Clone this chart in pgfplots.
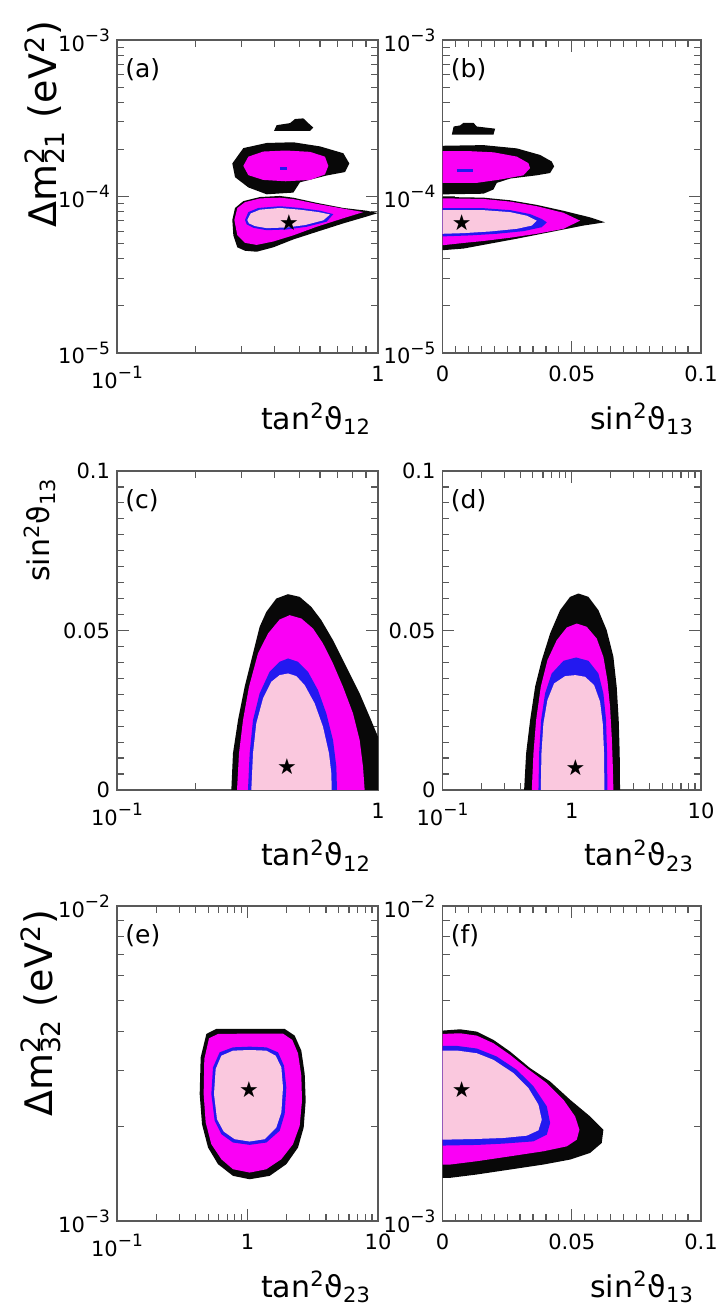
\documentclass[border=0pt]{standalone}
\usepackage{fontspec}
\setmainfont{DejaVu Sans}
\usepackage{pgfplots}
\pgfplotsset{compat=1.18}
\definecolor{cblack}{RGB}{8,8,8}
\definecolor{cmag}{RGB}{250,0,245}
\definecolor{cblue}{RGB}{35,25,240}
\definecolor{cpink}{RGB}{250,200,222}
\newcommand{\ex}[1]{\raisebox{0.85ex}{\fontsize{8.5}{8.5}\selectfont #1}}
\tikzset{
  dmlabel/.style={font=\fontsize{19}{19}\selectfont},
  snlabel/.style={font=\fontsize{15}{15}\selectfont},
}
\pgfplotsset{
  panel/.style={scale only axis, anchor=south west, tick align=inside,
    major tick length=6pt, minor tick length=3.5pt,
    axis line style={black!65, line width=0.6pt},
    tick style={black!65, line width=0.6pt},
    tick label style={font=\fontsize{10.5}{12}\selectfont},
    xticklabel style={yshift=-3pt},
    /pgf/number format/assume math mode=true,
    xlabel style={at={([yshift=-38pt]axis description cs:1,0)}, anchor=base east, font=\fontsize{15}{15}\selectfont},
  },
  col1/.style={width=130.5pt},
  col2/.style={width=129.25pt},
  row1/.style={height=156.5pt},
  row2/.style={height=159.5pt},
  row3/.style={height=157.5pt},
  logdm21/.style={ymin=1e-5, ymax=1e-3, ytick={1e-5,1e-4,1e-3},
    yticklabels={10\ex{−5},10\ex{−4},10\ex{−3}},
    minor ytick={2e-5,3e-5,4e-5,5e-5,6e-5,7e-5,8e-5,9e-5,2e-4,3e-4,4e-4,5e-4,6e-4,7e-4,8e-4,9e-4}},
  logdm32/.style={ymin=1e-3, ymax=1e-2, ytick={1e-3,1e-2},
    yticklabels={10\ex{−3},10\ex{−2}},
    minor ytick={2e-3,3e-3,4e-3,5e-3,6e-3,7e-3,8e-3,9e-3}},
  lint12/.style={xmin=0.1, xmax=1, xtick={0.1,1},
    xticklabels={10\ex{−1},1},
    minor xtick={0.2,0.3,0.4,0.5,0.6,0.7,0.8,0.9}},
  lint23/.style={xmin=0.1, xmax=10, xtick={0.1,1,10},
    xticklabels={10\ex{−1},1,10},
    minor xtick={0.2,0.3,0.4,0.5,0.6,0.7,0.8,0.9,2,3,4,5,6,7,8,9}},
  linx13/.style={xmin=0, xmax=0.1, xtick={0,0.05,0.1}, xticklabels={0,0.05,0.1}, minor x tick num=9},
  liny13/.style={ymin=0, ymax=0.1, ytick={0,0.05,0.1}, yticklabels={0,0.05,0.1}, minor y tick num=9},
  bestfit/.style={only marks, mark=text, text mark={★}, text mark as node=true,
    text mark style={font=\fontsize{11}{11}\selectfont, inner sep=0pt, text=black}},
}
\newcommand{\panellabel}[1]{\node[anchor=north west, inner sep=0pt, xshift=4pt, yshift=-9pt, font=\fontsize{12.5}{12.5}\selectfont] at (rel axis cs:0,1) {#1};}
\begin{document}
\begin{tikzpicture}
\path[use as bounding box] (0,0) rectangle (358.5pt,653pt);

% ---------------- (a) ----------------
\begin{loglogaxis}[panel, col1, row1, at={(58.5pt,476.5pt)}, lint12, logdm21,
  xlabel={tan\textsuperscript{2}ϑ\textsubscript{12}},
  ylabel={Δm\rlap{\textsuperscript{2}}\textsubscript{21} (eV\textsuperscript{2})},
  ylabel style={at={([xshift=-30pt,yshift=13pt]axis description cs:0,1)}, anchor=base east, dmlabel}]
\addplot[draw=none, fill=cblack] coordinates {(0.3995,2.622e-4) (0.4089,2.856e-4) (0.4601,2.944e-4) (0.4808,3.126e-4) (0.5175,3.158e-4) (0.5408,2.944e-4) (0.5650,2.757e-4) (0.5490,2.622e-4)} -- cycle;
\addplot[draw=none, fill=cblack] coordinates {(0.2766,1.626e-4) (0.3048,2.038e-4) (0.3745,2.198e-4) (0.4738,2.221e-4) (0.5996,2.090e-4) (0.7365,1.890e-4) (0.7767,1.626e-4) (0.7474,1.433e-4) (0.6357,1.362e-4) (0.5025,1.232e-4) (0.4738,1.059e-4) (0.3745,1.033e-4) (0.3186,1.143e-4) (0.2833,1.329e-4)} -- cycle;
\addplot[draw=none, fill=cmag] coordinates {(0.3048,1.569e-4) (0.3186,1.797e-4) (0.3636,1.938e-4) (0.4427,1.968e-4) (0.5490,1.929e-4) (0.6264,1.797e-4) (0.6452,1.569e-4) (0.6264,1.383e-4) (0.5490,1.276e-4) (0.4427,1.251e-4) (0.3636,1.276e-4) (0.3186,1.369e-4)} -- cycle;
\addplot[cblue, line width=1.5pt] coordinates {(0.4212,1.50e-4) (0.4467,1.50e-4)};
\addplot[draw=none, fill=cblack] coordinates {(0.2766,7.084e-5) (0.2833,8.448e-5) (0.3048,9.343e-5) (0.3531,9.924e-5) (0.4212,1.008e-4) (0.4738,9.824e-5) (0.5821,9.111e-5) (0.7365,8.448e-5) (0.9049,8.114e-5) (0.999,7.834e-5) (0.9049,7.448e-5) (0.7365,6.734e-5) (0.5821,5.941e-5) (0.4738,5.317e-5) (0.3972,4.735e-5) (0.3429,4.436e-5) (0.3094,4.502e-5) (0.2891,4.735e-5) (0.2791,5.648e-5)} -- cycle;
\addplot[draw=none, fill=cmag] coordinates {(0.2816,7.084e-5) (0.2891,8.448e-5) (0.3094,9.203e-5) (0.3531,9.727e-5) (0.4212,9.824e-5) (0.4738,9.629e-5) (0.5821,8.974e-5) (0.7365,8.363e-5) (0.8786,7.952e-5) (0.7365,7.264e-5) (0.5821,6.406e-5) (0.4738,5.648e-5) (0.3972,5.159e-5) (0.3429,4.905e-5) (0.3094,5.056e-5) (0.2891,5.648e-5)} -- cycle;
\addplot[draw=none, fill=cblue] coordinates {(0.3094,7.084e-5) (0.3186,7.952e-5) (0.3480,8.448e-5) (0.4212,8.663e-5) (0.5025,8.448e-5) (0.5996,8.114e-5) (0.6743,7.716e-5) (0.6357,6.904e-5) (0.5330,6.406e-5) (0.4467,6.154e-5) (0.3745,6.091e-5) (0.3330,6.310e-5) (0.3140,6.635e-5)} -- cycle;
\addplot[draw=none, fill=cpink] coordinates {(0.3158,7.084e-5) (0.3252,7.794e-5) (0.3531,8.237e-5) (0.4212,8.448e-5) (0.5025,8.237e-5) (0.5908,7.952e-5) (0.6548,7.677e-5) (0.6174,7.048e-5) (0.5253,6.568e-5) (0.4467,6.341e-5) (0.3745,6.278e-5) (0.3379,6.469e-5) (0.3204,6.734e-5)} -- cycle;
\addplot[bestfit] coordinates {(0.456,6.84e-5)};
\panellabel{(a)}
\end{loglogaxis}

% ---------------- (b) ----------------
\begin{semilogyaxis}[panel, col2, row1, at={(221.25pt,476.5pt)}, linx13, logdm21,
  xlabel={sin\textsuperscript{2}ϑ\textsubscript{13}}]
\addplot[draw=none, fill=cblack] coordinates {(0.00361,2.487e-4) (0.0043,2.80e-4) (0.00683,2.847e-4) (0.00812,2.958e-4) (0.01198,2.958e-4) (0.01327,2.80e-4) (0.02036,2.713e-4) (0.01972,2.487e-4)} -- cycle;
\addplot[draw=none, fill=cblack] coordinates {(0,2.109e-4) (0.01585,2.130e-4) (0.02874,2.030e-4) (0.03776,1.843e-4) (0.04227,1.673e-4) (0.04317,1.556e-4) (0.04163,1.413e-4) (0.03647,1.366e-4) (0.02616,1.302e-4) (0.02101,1.222e-4) (0.01972,1.109e-4) (0.01585,1.042e-4) (0,1.032e-4)} -- cycle;
\addplot[draw=none, fill=cmag] coordinates {(0,1.953e-4) (0.00941,1.953e-4) (0.01972,1.916e-4) (0.02874,1.799e-4) (0.03325,1.633e-4) (0.03389,1.519e-4) (0.03132,1.366e-4) (0.02229,1.283e-4) (0.01327,1.222e-4) (0,1.222e-4)} -- cycle;
\addplot[cblue, line width=1.5pt] coordinates {(0.00554,1.46e-4) (0.01198,1.46e-4)};
\addplot[draw=none, fill=cblack] coordinates {(0,9.929e-5) (0.01585,9.833e-5) (0.02616,9.460e-5) (0.03647,8.840e-5) (0.04678,8.104e-5) (0.05709,7.357e-5) (0.06289,6.844e-5) (0.05451,6.521e-5) (0.04163,5.920e-5) (0.02874,5.374e-5) (0.01843,4.999e-5) (0.00812,4.649e-5) (0,4.538e-5)} -- cycle;
\addplot[draw=none, fill=cmag] coordinates {(0,9.738e-5) (0.01585,9.645e-5) (0.02616,9.279e-5) (0.03647,8.671e-5) (0.04678,7.872e-5) (0.05322,7.011e-5) (0.04678,6.214e-5) (0.03647,5.778e-5) (0.02616,5.453e-5) (0.01585,5.196e-5) (0.00812,5.048e-5) (0,4.880e-5)} -- cycle;
\addplot[draw=none, fill=cblue] coordinates {(0,8.423e-5) (0.01585,8.423e-5) (0.02616,8.182e-5) (0.03389,7.721e-5) (0.03840,7.182e-5) (0.04034,6.844e-5) (0.03840,6.366e-5) (0.03132,6.007e-5) (0.02101,5.778e-5) (0.01070,5.641e-5) (0,5.559e-5)} -- cycle;
\addplot[draw=none, fill=cpink] coordinates {(0,8.182e-5) (0.01585,8.182e-5) (0.02616,7.948e-5) (0.03260,7.536e-5) (0.03647,7.011e-5) (0.03454,6.521e-5) (0.02874,6.214e-5) (0.01843,5.978e-5) (0.00812,5.834e-5) (0,5.778e-5)} -- cycle;
\addplot[bestfit] coordinates {(0.00747,6.844e-5)};
\panellabel{(b)}
\end{semilogyaxis}

% ---------------- (c) ----------------
\begin{semilogxaxis}[panel, col1, row2, at={(58.5pt,258pt)}, lint12, liny13,
  xlabel={tan\textsuperscript{2}ϑ\textsubscript{12}},
  ylabel={sin\textsuperscript{2}ϑ\textsubscript{13}},
  ylabel style={at={([xshift=-33.5pt,yshift=0pt]axis description cs:0,1)}, anchor=base east, snlabel}]
\addplot[draw=none, fill=cblack] coordinates {(0.2742,0) (0.2782,0.01148) (0.2909,0.02192) (0.3084,0.03236) (0.3320,0.04280) (0.3520,0.05115) (0.3735,0.05585) (0.4078,0.06002) (0.4520,0.06138) (0.5010,0.06054) (0.5553,0.05741) (0.6065,0.05324) (0.6724,0.04697) (0.7562,0.03862) (0.8507,0.03027) (0.9292,0.02296) (1,0.01670) (1,0)} -- cycle;
\addplot[draw=none, fill=cmag] coordinates {(0.2883,0) (0.2934,0.01148) (0.3040,0.02192) (0.3204,0.03236) (0.3469,0.04280) (0.3790,0.04906) (0.4199,0.05344) (0.4587,0.05480) (0.5085,0.05376) (0.5636,0.05063) (0.6155,0.04593) (0.6724,0.03967) (0.7343,0.03236) (0.8022,0.02401) (0.8507,0.01566) (0.8761,0.00731) (0.8889,0)} -- cycle;
\addplot[draw=none, fill=cblue] coordinates {(0.3176,0) (0.3223,0.01148) (0.3320,0.02192) (0.3520,0.03027) (0.3845,0.03706) (0.4199,0.04019) (0.4520,0.04123) (0.4937,0.04019) (0.5392,0.03706) (0.5889,0.03132) (0.6339,0.02401) (0.6724,0.01566) (0.6925,0.00731) (0.6965,0)} -- cycle;
\addplot[draw=none, fill=cpink] coordinates {(0.3271,0) (0.3320,0.01148) (0.3418,0.02088) (0.3627,0.02871) (0.3902,0.03392) (0.4199,0.03601) (0.4520,0.03653) (0.4865,0.03570) (0.5236,0.03288) (0.5719,0.02714) (0.6155,0.01983) (0.6491,0.01148) (0.6626,0.00522) (0.6646,0)} -- cycle;
\addplot[bestfit] coordinates {(0.4480,0.00731)};
\panellabel{(c)}
\end{semilogxaxis}

% ---------------- (d) ----------------
\begin{semilogxaxis}[panel, col2, row2, at={(221.25pt,258pt)}, lint23, liny13,
  xlabel={tan\textsuperscript{2}ϑ\textsubscript{23}}]
\addplot[draw=none, fill=cblack] coordinates {(0.4280,0) (0.4435,0.01148) (0.4764,0.02192) (0.5206,0.03236) (0.5861,0.04071) (0.6800,0.04906) (0.8125,0.05637) (0.9707,0.06054) (1.1259,0.06159) (1.3455,0.06054) (1.6077,0.05637) (1.8646,0.05010) (2.0997,0.04175) (2.2275,0.03236) (2.3083,0.02192) (2.3497,0.01148) (2.3638,0)} -- cycle;
\addplot[draw=none, fill=cmag] coordinates {(0.4907,0) (0.5054,0.01148) (0.5299,0.02192) (0.5760,0.03236) (0.6484,0.04071) (0.7656,0.04697) (0.9147,0.05094) (1.0932,0.05219) (1.3062,0.05115) (1.5607,0.04749) (1.7573,0.04175) (1.8871,0.03445) (1.9786,0.02610) (2.0387,0.01670) (2.0749,0.00835) (2.0997,0)} -- cycle;
\addplot[draw=none, fill=cblue] coordinates {(0.5526,0) (0.5591,0.01148) (0.5795,0.02192) (0.6220,0.03027) (0.7003,0.03653) (0.8623,0.04050) (1.0802,0.04154) (1.3455,0.04050) (1.6077,0.03653) (1.7573,0.03027) (1.8428,0.02192) (1.8758,0.01148) (1.8871,0)} -- cycle;
\addplot[draw=none, fill=cpink] coordinates {(0.5760,0) (0.5830,0.01148) (0.6036,0.02088) (0.6484,0.02818) (0.7299,0.03340) (0.8882,0.03570) (1.0676,0.03601) (1.2677,0.03549) (1.4884,0.03288) (1.6566,0.02766) (1.7368,0.02088) (1.7783,0.01148) (1.7889,0)} -- cycle;
\addplot[bestfit] coordinates {(1.0676,0.00710)};
\panellabel{(d)}
\end{semilogxaxis}

% ---------------- (e) ----------------
\begin{loglogaxis}[panel, col1, row3, at={(58.5pt,42.5pt)}, lint23, logdm32,
  xlabel={tan\textsuperscript{2}ϑ\textsubscript{23}},
  ylabel={Δm\rlap{\textsuperscript{2}}\textsubscript{32} (eV\textsuperscript{2})},
  ylabel style={at={([xshift=-32pt,yshift=1.5pt]axis description cs:0,1)}, anchor=base east, dmlabel}]
\addplot[draw=none, fill=cblack] coordinates {(0.4301,2.529e-3) (0.4377,3.308e-3) (0.4840,3.926e-3) (0.5771,4.072e-3) (1.0390,4.072e-3) (1.9266,4.072e-3) (2.2983,3.878e-3) (2.5852,3.474e-3) (2.7431,2.928e-3) (2.7918,2.408e-3) (2.6950,1.982e-3) (2.4378,1.711e-3) (1.9841,1.515e-3) (1.4789,1.391e-3) (1.0390,1.357e-3) (0.7742,1.391e-3) (0.5943,1.515e-3) (0.4984,1.711e-3) (0.4480,2.030e-3)} -- cycle;
\addplot[draw=none, fill=cmag] coordinates {(0.4613,2.529e-3) (0.4667,3.268e-3) (0.5070,3.803e-3) (0.5943,3.926e-3) (1.0390,3.935e-3) (1.8707,3.935e-3) (2.2055,3.757e-3) (2.4378,3.407e-3) (2.5852,2.893e-3) (2.6158,2.408e-3) (2.5107,2.005e-3) (2.2315,1.753e-3) (1.8169,1.571e-3) (1.3941,1.460e-3) (1.0390,1.425e-3) (0.7742,1.460e-3) (0.6303,1.571e-3) (0.5282,1.753e-3) (0.4782,2.055e-3)} -- cycle;
\addplot[draw=none, fill=cblue] coordinates {(0.5282,2.529e-3) (0.5440,3.074e-3) (0.6120,3.432e-3) (0.7742,3.559e-3) (1.0390,3.577e-3) (1.3941,3.559e-3) (1.7128,3.432e-3) (1.9041,3.112e-3) (1.9841,2.656e-3) (1.9266,2.185e-3) (1.7643,1.934e-3) (1.3941,1.775e-3) (1.0390,1.745e-3) (0.7742,1.775e-3) (0.6303,1.887e-3) (0.5603,2.080e-3)} -- cycle;
\addplot[draw=none, fill=cpink] coordinates {(0.5537,2.529e-3) (0.5703,3.037e-3) (0.6303,3.348e-3) (0.7742,3.474e-3) (1.0390,3.491e-3) (1.3941,3.474e-3) (1.6437,3.348e-3) (1.8169,3.074e-3) (1.8707,2.656e-3) (1.8169,2.212e-3) (1.6634,1.982e-3) (1.3539,1.819e-3) (1.0390,1.788e-3) (0.7973,1.819e-3) (0.6568,1.924e-3) (0.5839,2.106e-3)} -- cycle;
\addplot[bestfit] coordinates {(1.0268,2.604e-3)};
\panellabel{(e)}
\end{loglogaxis}

% ---------------- (f) ----------------
\begin{semilogyaxis}[panel, col2, row3, at={(221.25pt,42.5pt)}, linx13, logdm32,
  xlabel={sin\textsuperscript{2}ϑ\textsubscript{13}}]
\addplot[draw=none, fill=cblack] coordinates {(0,4.022e-3) (0.00683,4.061e-3) (0.01327,3.993e-3) (0.01972,3.758e-3) (0.02616,3.451e-3) (0.03389,3.057e-3) (0.04163,2.773e-3) (0.04936,2.427e-3) (0.05709,2.149e-3) (0.06224,1.950e-3) (0.06160,1.769e-3) (0.05709,1.645e-3) (0.04936,1.567e-3) (0.03905,1.511e-3) (0.02616,1.457e-3) (0.01327,1.405e-3) (0.00296,1.371e-3) (0,1.371e-3)} -- cycle;
\addplot[draw=none, fill=cmag] coordinates {(0,3.926e-3) (0.00683,3.945e-3) (0.01327,3.878e-3) (0.01972,3.667e-3) (0.02616,3.368e-3) (0.03260,3.057e-3) (0.04034,2.740e-3) (0.04678,2.427e-3) (0.05129,2.149e-3) (0.05297,1.950e-3) (0.05194,1.812e-3) (0.04807,1.726e-3) (0.03905,1.665e-3) (0.02616,1.605e-3) (0.01327,1.548e-3) (0.00296,1.511e-3) (0,1.511e-3)} -- cycle;
\addplot[draw=none, fill=cblue] coordinates {(0,3.597e-3) (0.00554,3.597e-3) (0.01327,3.528e-3) (0.02101,3.327e-3) (0.02874,3.020e-3) (0.03518,2.675e-3) (0.04034,2.312e-3) (0.04163,2.047e-3) (0.04034,1.880e-3) (0.03518,1.790e-3) (0.02358,1.761e-3) (0.01327,1.744e-3) (0,1.736e-3)} -- cycle;
\addplot[draw=none, fill=cpink] coordinates {(0,3.477e-3) (0.00554,3.477e-3) (0.01327,3.409e-3) (0.01972,3.248e-3) (0.02745,2.948e-3) (0.03325,2.642e-3) (0.03711,2.340e-3) (0.03840,2.098e-3) (0.03711,1.941e-3) (0.03260,1.866e-3) (0.02358,1.835e-3) (0.01327,1.822e-3) (0,1.812e-3)} -- cycle;
\addplot[bestfit] coordinates {(0.00747,2.610e-3)};
\panellabel{(f)}
\end{semilogyaxis}
\end{tikzpicture}
\end{document}
